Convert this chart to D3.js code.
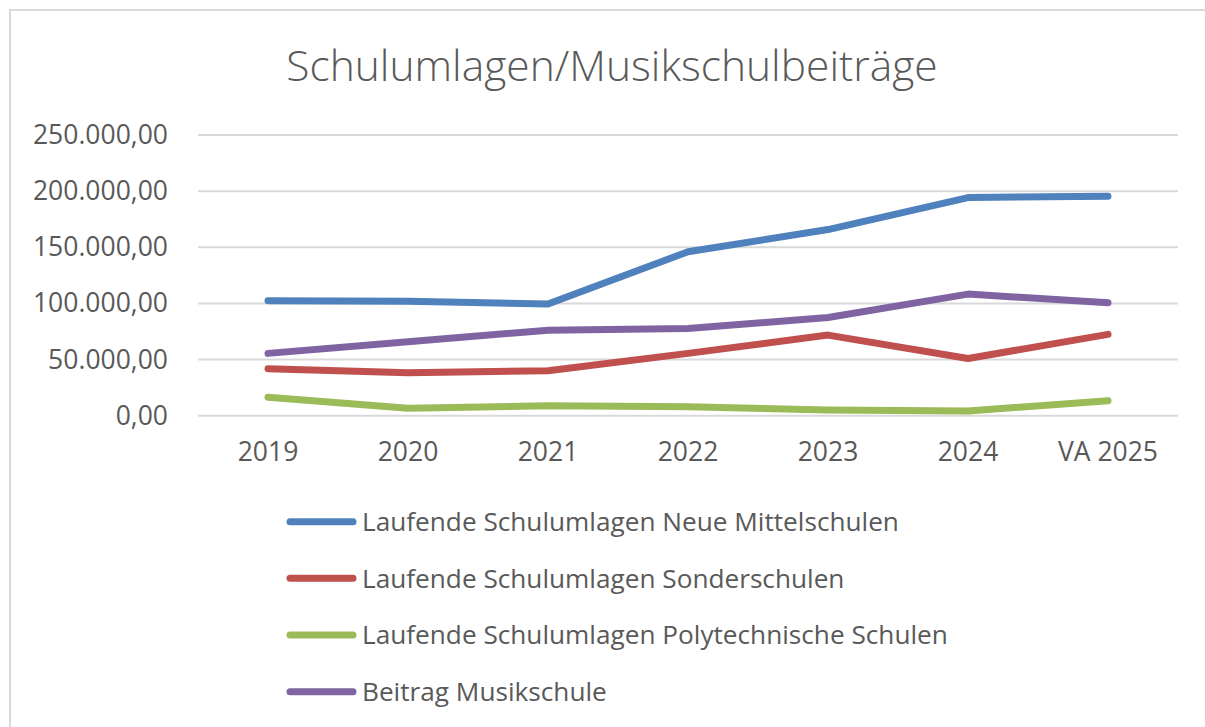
<!DOCTYPE html>
<html>
<head>
<meta charset="utf-8">
<script src="https://cdn.jsdelivr.net/npm/d3@7"></script>
<style>
	body{margin:0;background:#fff;}
	svg text{font-family:"Open Sans",sans-serif;fill:#595959;}
</style>
</head>
<body>
<div id="chart"></div>
<script>
// categories and series
var categories=["2019","2020","2021","2022","2023","2024","VA 2025"]
var neueMittelschulen=[102300,102000,99400,146000,165800,194300,195500]
var sonderschulen=[41800,38300,40000,55500,71800,51000,72400]
var polytechnische=[16400,6600,8900,8000,5100,4200,13300]
var musikschule=[55500,65800,76200,77700,87500,108300,100500]
var yTicks=[0,50000,100000,150000,200000,250000]

var seriesNames=["Laufende Schulumlagen Neue Mittelschulen","Laufende Schulumlagen Sonderschulen","Laufende Schulumlagen Polytechnische Schulen","Beitrag Musikschule"]
var seriesValues=[neueMittelschulen,sonderschulen,polytechnische,musikschule]
var colors=["#4F81BD","#C0504D","#9BBB59","#8064A2"]

var width=1205, height=727

var svg=d3.select("#chart").append("svg")
	.attr("width",width)
	.attr("height",height)

// chart frame (only top and left edges are visible in the picture)
svg.append("path")
	.attr("d","M10,727V10H1205")
	.attr("fill","none")
	.attr("stroke","#d9d9d9")
	.attr("stroke-width",2)

svg.append("text")
	.attr("x",612)
	.attr("y",81)
	.attr("text-anchor","middle")
	.style("font-size","42.5px")
	.style("font-weight",300)
	.text("Schulumlagen/Musikschulbeiträge")

var xScale=d3.scaleBand()
	.domain(categories)
	.range([198,1178])

var yScale=d3.scaleLinear()
	.domain([0,250000])
	.range([415.7,135])

var fmt=d3.formatLocale({decimal:",",thousands:".",grouping:[3],currency:["","€"]}).format(",.2f")

// gridlines
svg.append("g")
	.selectAll("line")
	.data(yTicks)
	.enter().append("line")
	.attr("x1",198)
	.attr("x2",1178)
	.attr("y1",function(d){return yScale(d)})
	.attr("y2",function(d){return yScale(d)})
	.attr("stroke","#d9d9d9")
	.attr("stroke-width",2)

// y axis labels
var yAxis=svg.append("g")
	.attr("transform","translate(178,0)")
	.call(d3.axisLeft(yScale).tickValues(yTicks).tickFormat(fmt).tickSize(0).tickPadding(10))
yAxis.select(".domain").remove()
yAxis.selectAll("text")
	.style("font-size","26.5px")
	.attr("fill",null)

// x axis labels
var xAxis=svg.append("g")
	.attr("transform","translate(0,440)")
	.call(d3.axisBottom(xScale).tickSize(0).tickPadding(0))
xAxis.select(".domain").remove()
xAxis.selectAll("text")
	.style("font-size","26.5px")
	.attr("dy","0.8em")
	.attr("fill",null)

var line=d3.line()
	.x(function(d,i){return xScale(categories[i])+xScale.bandwidth()/2})
	.y(function(d){return yScale(d)})

seriesValues.forEach(function(s,i){
	svg.append("path")
		.datum(s)
		.attr("d",line)
		.attr("fill","none")
		.attr("stroke",colors[i])
		.attr("stroke-width",7)
		.attr("stroke-linejoin","round")
		.attr("stroke-linecap","round")
})

// legend
var legend=svg.append("g")
var legendY=d3.scalePoint().domain(seriesNames).range([521.7,691.7])
seriesNames.forEach(function(name,i){
	var y=legendY(name)
	legend.append("line")
		.attr("x1",290).attr("x2",353)
		.attr("y1",y).attr("y2",y)
		.attr("stroke",colors[i])
		.attr("stroke-width",7)
		.attr("stroke-linecap","round")
	legend.append("text")
		.attr("x",362)
		.attr("y",y)
		.attr("dy","0.36em")
		.style("font-size","26.2px")
		.text(name)
})
</script>
</body>
</html>
